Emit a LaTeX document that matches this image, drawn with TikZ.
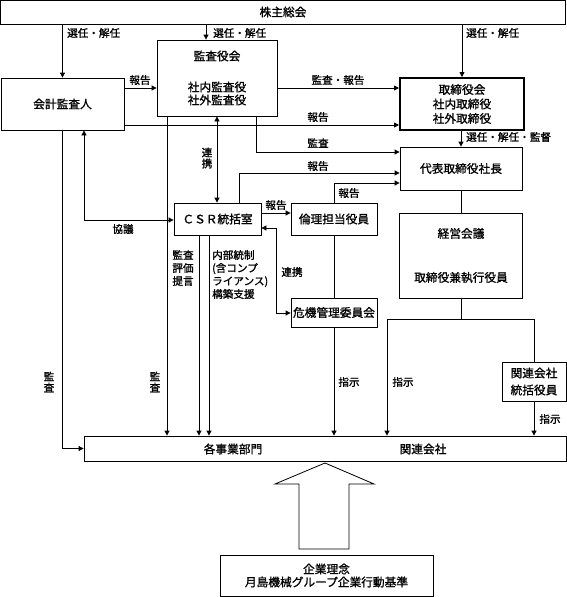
\documentclass[tikz,border=0pt]{standalone}
\usepackage{fontspec}
\setmainfont{Noto Sans CJK JP}[FakeBold=1.2]
\usetikzlibrary{arrows.meta}
\tikzset{
  box/.style={draw, line width=0.8pt, inner sep=0pt, align=center, font=\fontsize{11.7}{13}\selectfont},
  lbl/.style={inner sep=0pt, align=center, font=\fontsize{10.6}{12}\selectfont},
  vlbl/.style={inner sep=0pt, align=center, font=\fontsize{10.6}{11}\selectfont},
  ln/.style={line width=0.8pt},
  arr/.style={line width=0.8pt, -{Triangle[length=5pt,width=5pt]}},
  darr/.style={line width=0.8pt, {Triangle[length=5pt,width=5pt]}-{Triangle[length=5pt,width=5pt]}},
}
\begin{document}
\begin{tikzpicture}[x=1pt,y=-1pt]
\useasboundingbox (0,0) rectangle (567,597);
% boxes
\node[box, minimum width=565pt, minimum height=24pt] (kabu) at (283,12) {株主総会};
\node[box, minimum width=123pt, minimum height=52pt] (kaikei) at (62.5,104) {会計監査人};
\node[box, minimum width=120pt, minimum height=76pt] (kansa) at (217,78) {監査役会\\[18pt]社内監査役\\社外監査役};
\node[box, line width=2pt, minimum width=124pt, minimum height=52pt, font=\fontsize{11.7}{14.5}\selectfont] (tori) at (462,104) {取締役会\\社内取締役\\社外取締役};
\node[box, minimum width=122pt, minimum height=43pt] (daihyo) at (461,168.5) {代表取締役社長};
\node[box, minimum width=87pt, minimum height=32pt] (csr) at (217.5,219) {ＣＳＲ統括室};
\node[box, minimum width=86pt, minimum height=32pt] (rinri) at (334,219) {倫理担当役員};
\node[box, minimum width=123pt, minimum height=85pt] (keiei) at (461,255.5) {経営会議\\[31pt]取締役兼執行役員};
\node[box, minimum width=86pt, minimum height=29pt] (kiki) at (334,312.5) {危機管理委員会};
\node[box, minimum width=64pt, minimum height=39pt, font=\fontsize{11.7}{17}\selectfont] (kanren) at (534,381.5) {関連会社\\統括役員};
\node[box, minimum width=482pt, minimum height=25pt] (bottom) at (325,448.5) {};
\node[lbl, font=\fontsize{11.7}{13}\selectfont] (jigyo) at (233,449) {各事業部門};
\node[lbl, font=\fontsize{11.7}{13}\selectfont] (kanrenk) at (423,449) {関連会社};
\node[box, minimum width=213pt, minimum height=41pt] (rinen) at (326.5,575.5) {企業理念\\月島機械グループ企業行動基準};
% helper coordinates
\coordinate (r1) at (0,88);
\coordinate (r2) at (0,125);
\coordinate (r3) at (0,213);
\coordinate (x206) at (206,0);
\coordinate (c256) at (256,152);
\coordinate (c239) at (239,173);
\coordinate (c334) at (334,183);
\coordinate (c276a) at (276,228);
\coordinate (c276b) at (276,313);
\coordinate (j) at (461,319);
\coordinate (c387) at (387,319);
\coordinate (c534) at (534,319);
\coordinate (c84) at (84,220);
\coordinate (x167) at (167,0);
\coordinate (x199) at (199,0);
\coordinate (x209) at (209,0);
% connectors
\draw[arr] (kaikei.north |- kabu.south) -- (kaikei.north);
\draw[arr] (x206 |- kabu.south) -- (x206 |- kansa.north);
\draw[arr] (tori.north |- kabu.south) -- (tori.north);
\draw[arr] (kaikei.east |- r1) -- (kansa.west |- r1);
\draw[arr] (kansa.east |- r1) -- (tori.west |- r1);
\draw[arr] (kaikei.east |- r2) -- (tori.west |- r2);
\draw[arr] (daihyo.north |- tori.south) -- (daihyo.north);
\draw[arr] (c256 |- kansa.south) -- (c256) -- (daihyo.west |- c256);
\draw[darr] (kansa.south) -- (kansa.south |- csr.north);
\draw[arr] (c239 |- csr.north) -- (c239) -- (daihyo.west |- c239);
\draw[arr] (rinri.north) -- (c334) -- (daihyo.west |- c334);
\draw[arr] (csr.east |- r3) -- (rinri.west |- r3);
\draw[darr] (csr.east |- c276a) -- (c276a) -- (c276b) -- (kiki.west |- c276b);
\draw[ln] (rinri.south) -- (kiki.north);
\draw[arr] (kiki.south) -- (kiki.south |- bottom.north);
\draw[ln] (daihyo.south) -- (daihyo.south |- keiei.north);
\draw[ln] (j |- keiei.south) -- (j);
\draw[arr] (c534) -- (c387) -- (c387 |- bottom.north);
\draw[ln] (c534) -- (kanren.north);
\draw[arr] (kanren.south) -- (kanren.south |- bottom.north);
\draw[arr] (kaikei.south) -- (kaikei.south |- bottom.west) -- (bottom.west);
\draw[darr] (c84 |- kaikei.south) -- (c84) -- (csr.west |- c84);
\draw[arr] (x167 |- kansa.south) -- (x167 |- bottom.north);
\draw[arr] (x199 |- csr.south) -- (x199 |- bottom.north);
\draw[arr] (x209 |- csr.south) -- (x209 |- bottom.north);
% big arrow
\draw[ln] (325,463) -- (374,484) -- (349,484) -- (349,549) -- (299,549) -- (299,484) -- (275,484) -- cycle;
% labels
\node[lbl, anchor=west] (l1) at (67,33) {選任・解任};
\node[lbl, anchor=west] (l2) at (213,33) {選任・解任};
\node[lbl, anchor=west] (l3) at (466,33) {選任・解任};
\node[lbl] (l4) at (140,80) {報告};
\node[lbl] (l5) at (338,80) {監査・報告};
\node[lbl] (l6) at (318,117) {報告};
\node[lbl, anchor=west] (l7) at (466,137) {選任・解任・監督};
\node[lbl] (l8) at (318,143) {監査};
\node[vlbl] (l9) at (207,158) {連\\携};
\node[lbl] (l10) at (318,166) {報告};
\node[lbl] (l11) at (349,193) {報告};
\node[lbl] (l12) at (276,205) {報告};
\node[lbl] (l13) at (292,272) {連携};
\node[lbl] (l14) at (123,229) {協議};
\node[lbl, font=\fontsize{10.6}{13}\selectfont] (l15) at (183,268) {監査\\評価\\提言};
\node[lbl, anchor=west, align=left, font=\fontsize{10.6}{13}\selectfont] (l16) at (212,274.5) {内部統制\\(含コンプ\\ライアンス)\\構築支援};
\node[vlbl] (l17) at (49,382) {監\\査};
\node[vlbl] (l18) at (155,382) {監\\査};
\node[lbl] (l19) at (349,382) {指示};
\node[lbl] (l20) at (403,382) {指示};
\node[lbl] (l21) at (550,419) {指示};
\end{tikzpicture}
\end{document}
